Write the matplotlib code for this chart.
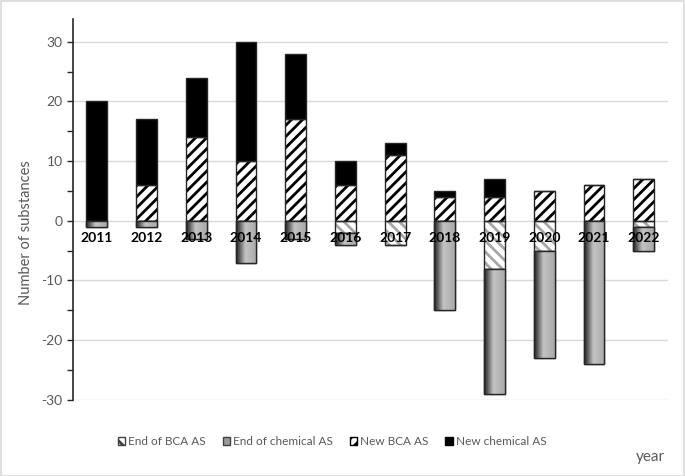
import numpy as np
import matplotlib.pyplot as plt
from matplotlib.patches import Patch
from matplotlib.colors import LinearSegmentedColormap

plt.rcParams['font.family'] = ['Lato', 'DejaVu Sans']
plt.rcParams['hatch.linewidth'] = 2.0
plt.rcParams['axes.unicode_minus'] = False

years = ['2011', '2012', '2013', '2014', '2015', '2016',
         '2017', '2018', '2019', '2020', '2021', '2022']
new_bca = [0, 6, 14, 10, 17, 6, 11, 4, 4, 5, 6, 7]
new_chem = [20, 11, 10, 20, 11, 4, 2, 1, 3, 0, 0, 0]
end_bca = [0, 0, 0, 0, 0, -2, -4, 0, -8, -5, 0, -1]
end_chem = [-1, -1, -3, -7, -3, -2, 0, -15, -21, -18, -24, -4]

x = np.arange(len(years))
w = 0.42
edge = '#262626'

fig = plt.figure(figsize=(6.85, 4.76), dpi=100)
fig.patches.append(plt.Rectangle((0.001, 0.001), 0.997, 0.997, transform=fig.transFigure,
                                 fill=False, edgecolor='#d9d9d9', linewidth=1.2))
ax = fig.add_axes([0.1066, 0.16, 0.868, 0.80])

# gridlines
for v in [-30, -20, -10, 0, 10, 20, 30]:
    ax.axhline(v, color='#d9d9d9', linewidth=1.0, zorder=0)

# positive stack
ax.bar(x, new_bca, w, color='white', edgecolor='black', hatch='///', linewidth=0, zorder=2)
ax.bar(x, new_bca, w, fill=False, edgecolor=edge, linewidth=1.0, zorder=3)
ax.bar(x, new_chem, w, bottom=new_bca, color='black', edgecolor=edge, linewidth=1.0, zorder=3)

# negative stack
ax.bar(x, end_bca, w, color='white', edgecolor='#a6a6a6', hatch='\\\\\\', linewidth=0, zorder=2)
ax.bar(x, end_bca, w, fill=False, edgecolor=edge, linewidth=1.0, zorder=3)
chem_bars = ax.bar(x, end_chem, w, bottom=end_bca, color='#b0b0b0', edgecolor=edge,
                   linewidth=1.0, zorder=3)

cmap = LinearSegmentedColormap.from_list('g', [(0, '#1e1e1e'), (0.45, '#c4c4c4'), (1, '#a9a9a9')])
grad = np.linspace(0, 1, 64).reshape(1, -1)
for b in chem_bars:
    if b.get_height() == 0:
        continue
    x0, y0 = b.get_x(), b.get_y()
    im = ax.imshow(grad, extent=[x0, x0 + b.get_width(), y0, y0 + b.get_height()],
                   aspect='auto', cmap=cmap, zorder=3.5, interpolation='bicubic')
    im.set_clip_path(b)
    ax.add_patch(plt.Rectangle((x0, y0), b.get_width(), b.get_height(), fill=False,
                               edgecolor=edge, linewidth=1.0, zorder=4))

# year labels at zero line
for xi, yr in zip(x, years):
    ax.text(xi, -1.9, yr, ha='center', va='top', fontsize=10, fontweight='bold', zorder=5)

ax.set_xlim(-0.48, 11.48)
ax.set_ylim(-30, 33.8)
ax.set_xticks([])
ax.set_yticks([-30, -20, -10, 0, 10, 20, 30])
ax.set_yticks([-25, -15, -5, 5, 15, 25], minor=True)
ax.tick_params(axis='y', which='both', direction='out', length=4, width=1, color='#262626',
               labelcolor='#595959', labelsize=10)
for s in ['top', 'right', 'bottom']:
    ax.spines[s].set_visible(False)
ax.spines['left'].set_color('#262626')
ax.spines['left'].set_linewidth(1.2)
ax.set_ylabel('Number of substances', color='#595959', fontsize=10.5)
ax.yaxis.set_label_coords(-0.067, 0.44)

handles = [
    Patch(facecolor='white', edgecolor='#404040', hatch='\\\\\\', linewidth=1),
    Patch(facecolor='#9a9a9a', edgecolor='#404040', linewidth=1),
    Patch(facecolor='white', edgecolor='black', hatch='///', linewidth=1),
    Patch(facecolor='black', edgecolor='black', linewidth=1),
]
labels = ['End of BCA AS', 'End of chemical AS', 'New BCA AS', 'New chemical AS']
fig.legend(handles, labels, loc='center left', bbox_to_anchor=(0.172, 0.073), ncol=4,
           frameon=False, fontsize=8.5, handlelength=0.65, handleheight=0.65,
           handletextpad=0.25, columnspacing=1.4, labelcolor='#595959',
           borderaxespad=0, borderpad=0)
fig.text(0.928, 0.04, 'year', fontsize=11, color='#595959', ha='left', va='center')

fig.savefig('out.png', dpi=100)
